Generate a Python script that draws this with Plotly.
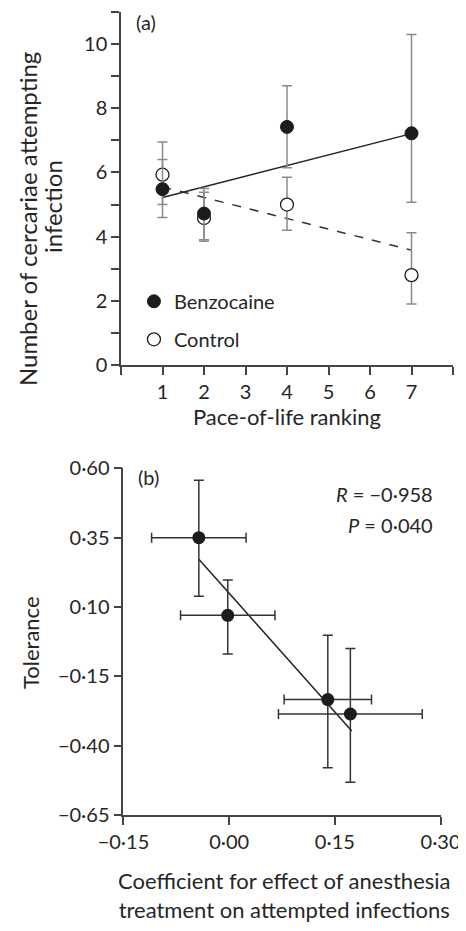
import plotly.graph_objects as go

# ---- Panel (a) data ----
rank = [1, 2, 4, 7]
benzo = [5.48, 4.72, 7.42, 7.22]
benzo_up = [0.92, 0.78, 1.28, 3.08]
benzo_dn = [0.88, 0.82, 1.27, 2.15]
control = [5.93, 4.58, 5.0, 2.8]
control_up = [1.02, 0.8, 0.85, 1.32]
control_dn = [0.93, 0.72, 0.8, 0.9]
fit_x = [1, 7]
fit_benzo = [5.22, 7.21]
fit_control = [5.55, 3.58]

# ---- Panel (b) data ----
coef = [-0.043, -0.002, 0.140, 0.172]
coef_err = [0.067, 0.067, 0.062, 0.102]
tol = [0.35, 0.07, -0.234, -0.286]
tol_up = [0.207, 0.127, 0.232, 0.236]
tol_dn = [0.211, 0.14, 0.246, 0.246]
fitb_x = [-0.043, 0.174]
fitb_y = [0.272, -0.347]

ytick_a = list(range(0, 12))
ytext_a = [str(v) if v % 2 == 0 else "" for v in ytick_a]
xtick_a = list(range(0, 9))
xtext_a = [str(v) if 1 <= v <= 7 else "" for v in xtick_a]
ytick_b = [-0.65, -0.40, -0.15, 0.10, 0.35, 0.60]
ytext_b = ["\u22120\u00b765", "\u22120\u00b740", "\u22120\u00b715", "0\u00b710", "0\u00b735", "0\u00b760"]
xtick_b = [-0.15, 0.0, 0.15, 0.30]
xtext_b = ["\u22120\u00b715", "0\u00b700", "0\u00b715", "0\u00b730"]

INK = "#1c1c1c"
GREY = "#8a8a8a"
FONT = "Lato"
TXT = "#262626"

fig = go.Figure()

# panel a
fig.add_trace(go.Scatter(x=fit_x, y=fit_control, mode="lines",
                         line=dict(color="#333", width=1.5, dash="dash"),
                         showlegend=False, xaxis="x", yaxis="y"))
fig.add_trace(go.Scatter(x=fit_x, y=fit_benzo, mode="lines",
                         line=dict(color="#222", width=1.5),
                         showlegend=False, xaxis="x", yaxis="y"))
fig.add_trace(go.Scatter(x=rank, y=control, mode="markers", name="Control",
                         marker=dict(size=13, color="white", line=dict(color=INK, width=1.3)),
                         error_y=dict(type="data", symmetric=False, array=control_up,
                                      arrayminus=control_dn, color=GREY, thickness=1.5, width=5),
                         legendgroup="c", legendrank=2, xaxis="x", yaxis="y"))
fig.add_trace(go.Scatter(x=rank, y=benzo, mode="markers", name="Benzocaine",
                         marker=dict(size=13, color=INK, line=dict(color=INK, width=1)),
                         error_y=dict(type="data", symmetric=False, array=benzo_up,
                                      arrayminus=benzo_dn, color=GREY, thickness=1.5, width=5),
                         legendgroup="b", legendrank=1, xaxis="x", yaxis="y"))

# panel b
fig.add_trace(go.Scatter(x=fitb_x, y=fitb_y, mode="lines",
                         line=dict(color="#222", width=1.5),
                         showlegend=False, xaxis="x2", yaxis="y2"))
fig.add_trace(go.Scatter(x=coef, y=tol, mode="markers",
                         marker=dict(size=13, color=INK),
                         error_y=dict(type="data", symmetric=False, array=tol_up,
                                      arrayminus=tol_dn, color="#333", thickness=1.5, width=5),
                         error_x=dict(type="data", array=coef_err, color="#333",
                                      thickness=1.5, width=5),
                         showlegend=False, xaxis="x2", yaxis="y2"))

axis_common = dict(showline=True, linecolor="#444", linewidth=1.5, ticks="outside",
                   ticklen=8, tickwidth=1.5, tickcolor="#444", showgrid=False,
                   zeroline=False, tickfont=dict(size=20, color=TXT, family=FONT),
                   tickmode="array", automargin=False)


def ann(text, x, y, size, angle=0, xanchor="center", xref="paper", yref="paper"):
    return dict(text=text, x=x, y=y, xref=xref, yref=yref, xanchor=xanchor,
                yanchor="middle", showarrow=False, textangle=angle,
                font=dict(size=size, family=FONT, color=TXT))


# page body has an 8px default margin: offset figure margins to compensate
fig.update_layout(
    width=466, height=931,
    margin=dict(l=113, r=21, t=4, b=124),
    paper_bgcolor="white", plot_bgcolor="white",
    font=dict(family=FONT, size=20, color=TXT),
    xaxis=dict(**axis_common, domain=[0, 1], range=[0, 8], tickvals=xtick_a, ticktext=xtext_a,
               anchor="y"),
    yaxis=dict(**axis_common, domain=[0.5604, 1], range=[0, 11], tickvals=ytick_a,
               ticktext=ytext_a, anchor="x"),
    xaxis2=dict(**axis_common, domain=[0.0069, 0.963], range=[-0.1502, 0.3002],
                tickvals=xtick_b, ticktext=xtext_b, anchor="y2"),
    yaxis2=dict(**axis_common, domain=[0, 0.4318], range=[-0.6502, 0.6002],
                tickvals=ytick_b, ticktext=ytext_b, anchor="x2"),
    legend=dict(x=0.039, y=0.664, xanchor="left", yanchor="top", bgcolor="rgba(0,0,0,0)",
                font=dict(size=20), tracegroupgap=9, itemwidth=30),
    annotations=[
        ann("Pace-of-life ranking", 0.5, 0.4965, 22),
        ann("Number of cercariae attempting", -0.2831, 0.7421, 24, angle=-90),
        ann("infection", -0.2078, 0.7571, 24, angle=-90),
        ann("Tolerance", -0.2726, 0.2148, 22, angle=-90),
        ann("Coefficient for effect of anesthesia<br>treatment on attempted infections",
            0.4895, -0.0996, 22),
        ann("(a)", 0.039, 0.9875, 20, xanchor="left"),
        ann("(b)", 0.045, 0.421, 20, xanchor="left"),
        ann("<i>R</i> = \u22120\u00b7958", 0.292, 0.506, 20, xanchor="right",
            xref="x2", yref="y2"),
        ann("<i>P</i> = 0\u00b7040", 0.292, 0.394, 20, xanchor="right",
            xref="x2", yref="y2"),
    ],
)

fig.write_html("out.html")
